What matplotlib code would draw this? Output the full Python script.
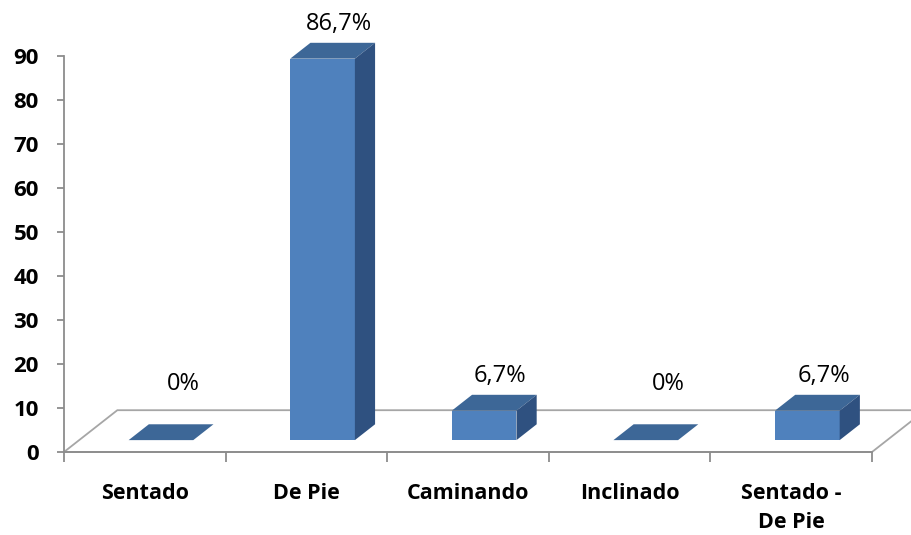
import matplotlib
matplotlib.use("Agg")
import matplotlib.pyplot as plt
from matplotlib.patches import Polygon

categorias = ["Sentado", "De Pie", "Caminando", "Inclinado", "Sentado -\nDe Pie"]
porcentajes = [0, 86.7, 6.7, 0, 6.7]
etiquetas = ["0%", "86,7%", "6,7%", "0%", "6,7%"]
yticks = [0, 10, 20, 30, 40, 50, 60, 70, 80, 90]

# colores estilo Excel 2007
azul = "#4f81bd"
azulTop = "#3d6797"
azulSide = "#2f5180"
gris = "#8c8c8c"

# desplazamientos "3D" en unidades de datos (x = categoria, y = porcentaje)
pisoDx, pisoDy = 0.33, 9.5
frenteDx, frenteDy = 0.10, 2.7
fondoDx, fondoDy = 0.125, 3.6
ancho = 0.40

fig = plt.figure(figsize=(9.11, 5.35), dpi=100)
ax = fig.add_axes([64 / 911, 83 / 535, 808 / 911, 396 / 535])
ax.set_xlim(-0.5, 4.5)
ax.set_ylim(0, 90)

# piso del grafico
x0, x1 = -0.5, 4.5
piso = Polygon([(x0, 0), (x1, 0), (x1 + pisoDx, pisoDy), (x0 + pisoDx, pisoDy)],
               closed=True, facecolor="white", edgecolor="#a6a6a6", lw=1.3,
               clip_on=False, zorder=1)
ax.add_patch(piso)

pos = list(range(len(categorias)))
xs = [p + frenteDx for p in pos]
bars = ax.bar(xs, porcentajes, ancho, bottom=frenteDy, color=azul,
              edgecolor="none", zorder=3)

for b, v in zip(bars, porcentajes):
    xl = b.get_x()
    xr = xl + b.get_width()
    yb = b.get_y()
    yt = yb + v
    top = Polygon([(xl, yt), (xr, yt), (xr + fondoDx, yt + fondoDy), (xl + fondoDx, yt + fondoDy)],
                  closed=True, facecolor=azulTop, edgecolor="none", zorder=3, clip_on=False)
    ax.add_patch(top)
    if v > 0:
        side = Polygon([(xr, yb), (xr + fondoDx, yb + fondoDy), (xr + fondoDx, yt + fondoDy), (xr, yt)],
                       closed=True, facecolor=azulSide, edgecolor="none", zorder=3, clip_on=False)
        ax.add_patch(side)

for p, v, t in zip(pos, porcentajes, etiquetas):
    dx = 0.24 if v == 0 else 0.2
    ax.text(p + dx, max(v, 5) + 10.5, t, ha="center", va="center",
            fontsize=17, family="Open Sans", fontweight="medium", color="black", clip_on=False)

# ejes
for s in ["top", "right"]:
    ax.spines[s].set_visible(False)
for s in ["left", "bottom"]:
    ax.spines[s].set_color(gris)
    ax.spines[s].set_linewidth(1.3)

ax.set_yticks(yticks)
ax.set_yticklabels([str(t) for t in yticks], fontsize=16, fontweight="bold", family="Open Sans")
ax.tick_params(axis="y", length=5, width=1.3, color=gris, pad=13)

ax.set_xticks([i - 0.5 for i in range(len(categorias) + 1)])
ax.set_xticklabels([])
ax.tick_params(axis="x", which="major", length=7.5, width=1.3, color=gris)
ax.set_xticks(pos, minor=True)
ax.set_xticklabels(categorias, minor=True, fontsize=15.5, fontweight="bold",
                   family="Open Sans", linespacing=1.55)
ax.tick_params(axis="x", which="minor", length=0, pad=22)

fig.savefig("out.png", dpi=100)
